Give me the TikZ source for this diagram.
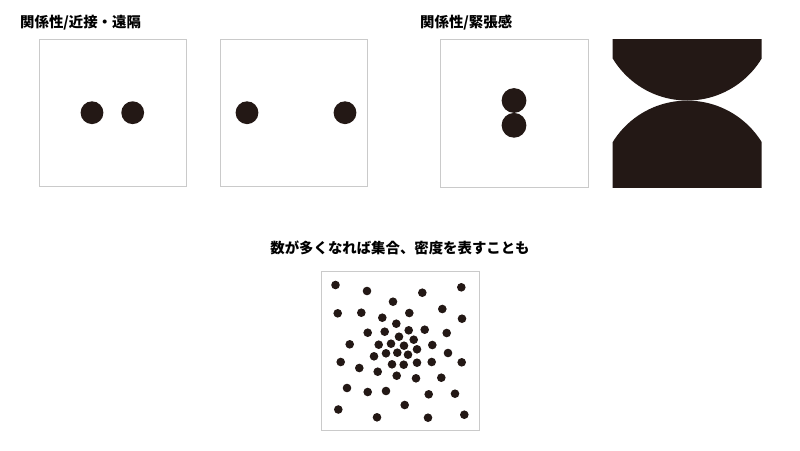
\documentclass[tikz,border=0pt]{standalone}
\usepackage{fontspec}
\newfontfamily\cjk{Noto Sans CJK JP Black}
\definecolor{ink}{HTML}{231815}
\definecolor{frame}{HTML}{CACACA}
\begin{document}
\begin{tikzpicture}[x=1pt,y=-1pt,
  title/.style={inner sep=0pt,font=\cjk\fontsize{14.4}{14.4}\selectfont,text=black},
  framebox/.style={draw=frame,line width=1pt,fill=white},
  dot/.style={fill=ink}]
\useasboundingbox[fill=white] (0,0) rectangle (800,450);
% titles
\node[title,anchor=west] (t1) at (20,22.5) {関係性/近接・遠隔};
\node[title,anchor=west] (t2) at (420,22.5) {関係性/緊張感};
\node[title] (t3) at (400,248) {数が多くなれば集合、密度を表すことも};
% box 1: near
\draw[framebox] (39.5,39.5) rectangle (186.5,186.5);
\fill[dot] (92,112.7) circle (11.4);
\fill[dot] (132.7,112.7) circle (11.4);
% box 2: far
\draw[framebox] (220.5,39.5) rectangle (367.5,186.5);
\fill[dot] (247,112.7) circle (11.4);
\fill[dot] (345,112.7) circle (11.4);
% box 3: tension
\draw[framebox] (440.5,39) rectangle (588.5,187);
\fill[dot] (514,100.5) circle (12.4);
\fill[dot] (514,125.3) circle (12.4);
% box 4: big semicircles
\begin{scope}
\clip (612.7,39) rectangle (761.7,187.3);
\fill[white] (612.7,39) rectangle (761.7,187.3);
\fill[ink] (687.2,13.5) circle (87);
\fill[ink] (687.2,188.2) circle (87.6);
\end{scope}
% bottom box: density
\draw[framebox] (321.5,271.7) rectangle (479.3,430);
\foreach \x/\y in {335.5/285,367/291,422.3/292.7,461.3/287.3,393/301.7,
  337.7/313.3,361.3/312.7,409.3/313,442.3/309,462/318.7,
  382.3/317.7,396.3/323.7,367.7/332.7,384.7/331.7,408.7/330.3,424.7/329.7,446.7/333,
  399/336.7,413.7/339.7,349.7/344.3,378.7/344.7,391/343.7,404/345.7,432.3/345,417/349.3,
  386/353.3,397.3/352.7,408/354.7,448/353,374/356.3,
  340.7/362,392/364.3,403.7/364.7,417/362.7,431.7/362,461.7/362.3,
  359.3/368,377.7/371.7,396.7/375.7,416/378.3,441.3/377.7,
  347/388,367.7/392,386/391,428.7/394.3,455/393.7,
  338.3/409.5,404.7/405,377/417.3,428/417.7,464.3/414.7}
  \fill[dot] (\x,\y) circle (4.3);
\end{tikzpicture}
\end{document}
